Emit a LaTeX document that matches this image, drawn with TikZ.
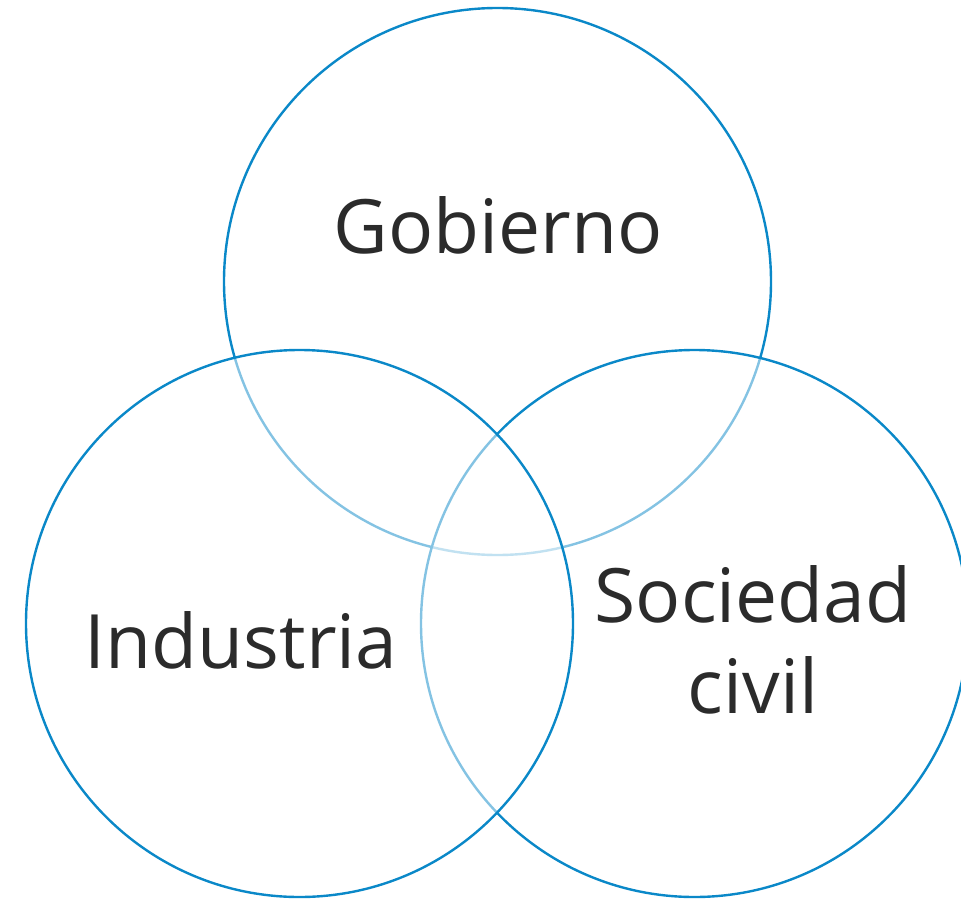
\documentclass[tikz,border=0pt]{standalone}
\usepackage{fontspec}
\setmainfont{Open Sans}
\definecolor{vennblue}{RGB}{10,136,200}
\definecolor{venntext}{RGB}{43,43,43}
\begin{document}
\begin{tikzpicture}[x=1pt,y=-1pt,
  venn/.style={circle, draw=vennblue, line width=2.4pt, fill=white, fill opacity=0.5, draw opacity=1, minimum size=547pt, inner sep=0pt},
  lbl/.style={text=venntext, font=\fontsize{75}{91}\selectfont, align=center, inner sep=0pt}]
\useasboundingbox (0,0) rectangle (961,899);
\clip (0,0) rectangle (961,899);
\node[venn] (gob) at (497.5,281.5) {};
\node[venn] (soc) at (694.5,623.5) {};
\node[venn] (ind) at (299.5,623.5) {};
\node[lbl, anchor=base] (tgob) at (498,253) {Gobierno};
\node[lbl, anchor=base] (tind) at (241,668) {Industria};
\node[lbl, anchor=base] (tsoc) at (753,713) {Sociedad\\civil};
\end{tikzpicture}
\end{document}
